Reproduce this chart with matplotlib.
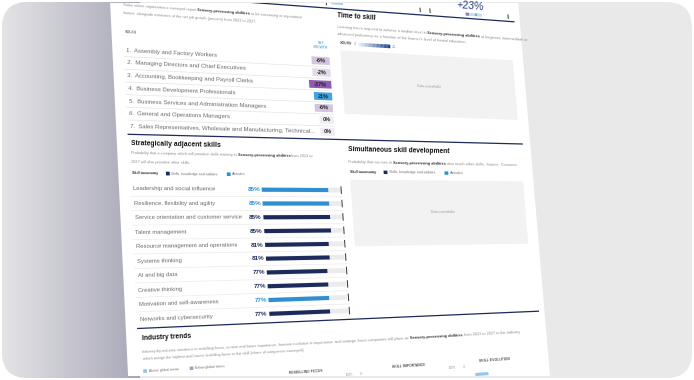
import numpy as np
import matplotlib
matplotlib.use("Agg")
import matplotlib.pyplot as plt
from matplotlib import transforms as mtransforms
from matplotlib.colors import LinearSegmentedColormap, to_rgb
from matplotlib.patches import FancyBboxPatch, Rectangle

# ---- data ----
roles = [
    "Assembly and Factory Workers",
    "Managing Directors and Chief Executives",
    "Accounting, Bookkeeping and Payroll Clerks",
    "Business Development Professionals",
    "Business Services and Administration Managers",
    "General and Operations Managers",
    "Sales Representatives, Wholesale and Manufacturing, Technical...",
]
net_growth = [-6, -2, -37, 21, -6, 0, 0]

skills = [
    "Leadership and social influence",
    "Resilience, flexibility and agility",
    "Service orientation and customer service",
    "Talent management",
    "Resource management and operations",
    "Systems thinking",
    "AI and big data",
    "Creative thinking",
    "Motivation and self-awareness",
    "Networks and cybersecurity",
]
skill_share = [85, 85, 85, 85, 81, 81, 77, 77, 77, 77]
skill_group = ["Attitudes", "Attitudes", "Skills", "Skills", "Skills",
               "Skills", "Skills", "Skills", "Attitudes", "Skills"]

plt.rcParams["font.family"] = ["Liberation Sans", "DejaVu Sans"]

NAVY = "#1c2a5c"
BLUE = "#2f8fd2"
LABEL = "#6c6c6c"
DESC = "#8f8f8f"
HILITE = "#3a3a3a"

# perspective of the tilted page: page coords (u, v) -> screen pixels
HORIZON = 205.0
VP_ROW = np.array([3000.0, HORIZON, 1.0])
VP_COL = np.array([-420.0, -11000.0, 1.0])
EDGE_X0, EDGE_SLOPE = 110.0, 0.048


class PageTilt(mtransforms.Transform):
    input_dims = output_dims = 2

    def transform_non_affine(self, values):
        pts = np.asarray(values, dtype=float).reshape(-1, 2)
        u, v = pts[:, 0], pts[:, 1]
        one = np.ones_like(u)
        rows = np.cross(np.column_stack([EDGE_X0 + EDGE_SLOPE * v, v, one]), VP_ROW)
        cols = np.cross(np.column_stack([u, HORIZON * one, one]), VP_COL)
        p = np.cross(rows, cols)
        return p[:, :2] / p[:, 2:3]


fig = plt.figure(figsize=(6.94, 3.80), dpi=100)
fig.patch.set_facecolor("white")
ax = fig.add_axes([0, 0, 1, 1])
ax.set_autoscale_on(False)
ax.axis("off")

tilt = PageTilt()
page = tilt + ax.transData
renderer = fig.canvas.get_renderer()


def screen(u, v):
    return tilt.transform(np.array([[u, v]]))[0]


def row_angle(x, y):
    return -np.degrees(np.arctan((HORIZON - y) / (VP_ROW[0] - x)))


def text(u, v, s, size=4.3, color=LABEL, weight="normal", ha="left"):
    x, y = screen(u, v)
    return ax.text(x, y, s, fontsize=size, color=color, fontweight=weight, ha=ha,
                   va="center", rotation=row_angle(x, y), rotation_mode="anchor", zorder=6)


def rich(u, v, parts, size=2.8):
    # consecutive runs of plain / bold text along one page row
    x, y = screen(u, v)
    ang = row_angle(x, y)
    ca, sa = np.cos(np.radians(ang)), np.sin(np.radians(ang))
    gap = 0.27 * size * 100 / 72
    for s, bold in parts:
        t = ax.text(x, y, s, fontsize=size, color=HILITE if bold else DESC,
                    fontweight="bold" if bold else "normal", va="center", zorder=6)
        w = t.get_window_extent(renderer).width + gap
        t.set_rotation(ang)
        t.set_rotation_mode("anchor")
        x, y = x + w * ca, y - w * sa


def box(u, v, w, h, color, z=3):
    r = Rectangle((u, v), w, h, facecolor=color, edgecolor="none", transform=page, zorder=z)
    ax.add_patch(r)
    return r


def hline(u0, u1, v, color, lw):
    ax.plot([u0, u1], [v, v], color=color, lw=lw, transform=page, zorder=4,
            solid_capstyle="butt")


def vtick(u, v, half, color="#333333", lw=0.7):
    ax.plot([u, u], [v - half, v + half], color=color, lw=lw, transform=page, zorder=5)


def growth_color(g):
    t = min(1.0, abs(g) / (37 if g < 0 else 25)) ** 0.7
    a = np.array(to_rgb("#efedf1"))
    b = np.array(to_rgb("#8e5bb0" if g < 0 else "#2a9be0"))
    return a + (b - a) * t


# ---- mock-up frame ----
frame = FancyBboxPatch((2, 2), 690, 376, boxstyle="round,pad=0,rounding_size=26",
                       facecolor="#e9e9e9", edgecolor="none", zorder=0)
ax.add_patch(frame)
shade = ax.imshow(np.linspace(0, 1, 256)[None, :],
                  cmap=LinearSegmentedColormap.from_list("shade", ["#e4e4e7", "#a8a7b7"]),
                  extent=(2, 140, 378, 2), aspect="auto", zorder=1, interpolation="bilinear")
shade.set_clip_path(frame)
ax.set_xlim(0, 694)
ax.set_ylim(380, 0)

n_patches = len(ax.patches)
box(119.84, -60, 415.6, 500, "white", z=2)

# ---- strip left over from the block above ----
text(486, -22.5, "+23%", size=7.6, color="#233c84", ha="center")
box(345, -15.5, 12, 3, "#a9d2ef")
for uu in (340, 435, 445, 524):
    vtick(uu, -13.5, 2)
box(481, -14.5, 3.5, 3.5, "#9a7ab8")
box(484.5, -14.5, 13, 3.5, "#bfe0f5")
text(491, -12.8, "6", size=2.4, color="#333", ha="center")
hline(131, 530, -8, NAVY, 0.9)

# ---- roles ----
rich(132.7, 4.1, [("Roles where organizations surveyed report", False),
                  ("Sensory-processing abilities", True),
                  ("to be increasing in importance", False)])
rich(132.7, 12.2, [("fastest, alongside estimates of the net job growth (percent) from 2023 to 2027.", False)])
text(133.5, 31.2, "ROLES", size=2.5, weight="bold", color="#777777")
text(331.5, 30.5, "NET", size=2.4, color=BLUE, ha="center")
text(331.5, 35.3, "GROWTH", size=2.4, color=BLUE, ha="center")

ROLE_V0, ROLE_DV = 49.5, 12.75
for i, (name, g) in enumerate(zip(roles, net_growth)):
    v = ROLE_V0 + i * ROLE_DV
    text(134, v, f"{i + 1}.  {name}", size=4.3)
    lab = f"{g}%"
    w = 6 + 4.1 * len(lab)
    box(339.5 - w, v - 4.2, w, 8.4, growth_color(g))
    text(339.5 - w / 2, v, lab, size=4.0, weight="bold", color="#222222", ha="center")
    if i < len(roles) - 1:
        hline(131, 340, v + ROLE_DV / 2, "#e4e4e4", 0.5)

hline(131, 528, 134, NAVY, 0.9)

# ---- strategically adjacent skills ----
text(134, 142.7, "Strategically adjacent skills", size=4.9, weight="bold", color="#111111")
rich(133.5, 152.8, [("Probability that a company which will prioritize skills training in", False),
                    ("Sensory-processing abilities", True), ("from 2023 to", False)])
rich(133.5, 161.8, [("2027 will also prioritize other skills.", False)])


def taxonomy_legend(u, v):
    text(u, v, "Skill taxonomy", size=2.7, weight="bold", color="#333333")
    box(u + 34, v - 1.9, 3.8, 3.8, NAVY)
    text(u + 39.5, v, "Skills, knowledge and abilities", size=2.5, color="#777777")
    box(u + 95, v - 1.9, 3.8, 3.8, BLUE)
    text(u + 100.5, v, "Attitudes", size=2.5, color="#777777")


taxonomy_legend(133.6, 173)

SK_V0, SK_DV = 188.9, 14.52
bar_tf = mtransforms.Affine2D().scale(0.783, SK_DV).translate(262.7, SK_V0) + page
rows = np.arange(len(skills))
bar_colors = [BLUE if g == "Attitudes" else NAVY for g in skill_group]
ax.barh(rows, np.full(len(rows), 100), height=0.36, color="#ececec", transform=bar_tf, zorder=3)
ax.barh(rows, skill_share, height=0.3, color=bar_colors, transform=bar_tf, zorder=4)
ax.vlines(np.full(len(rows), 101.5), rows - 0.28, rows + 0.28, color="#333333", lw=0.7,
          transform=bar_tf, zorder=5)
for r, (name, p, c) in enumerate(zip(skills, skill_share, bar_colors)):
    v = SK_V0 + r * SK_DV
    text(134, v, name, size=4.2)
    text(261, v, f"{p}%", size=4.5, weight="bold", color=c, ha="right")
    if r < len(skills) - 1:
        hline(131, 343, v + SK_DV / 2, "#ececec", 0.5)

# ---- time to skill ----
text(350, -1, "Time to skill", size=4.8, weight="bold", color="#111111")
rich(349, 12, [("Learning hours required to achieve a median level in", False),
               ("Sensory-processing abilities", True),
               ("at beginner, intermediate or", False)])
rich(349, 20, [("advanced proficiency as a function of the learner's level of formal education.", False)])
text(351, 29.5, "HOURS", size=2.4, weight="bold", color="#555555")
text(365.5, 29.5, "0", size=2.4, color="#888888")
hours_cmap = LinearSegmentedColormap.from_list("hours", ["#e8f2fb", "#1b3f8b"])
for k in range(24):
    box(369.4 + k * 1.35, 27.5, 1.45, 4, hours_cmap(k / 23), z=4)
text(403.5, 30, "24", size=2.4, color="#888888")
box(351, 37, 174, 69, "#f2f2f2")
text(438, 72, "Data unavailable", size=2.3, color="#9a9a9a", ha="center")

# ---- simultaneous skill development ----
text(352, 145.2, "Simultaneous skill development", size=4.8, weight="bold", color="#111111")
rich(351, 158.3, [("Probability that courses in", False), ("Sensory-processing abilities", True),
                  ("also teach other skills. Source: Coursera.", False)])
taxonomy_legend(352, 169)
box(352, 177.5, 173, 72.5, "#f2f2f2")
text(442, 213, "Data unavailable", size=2.3, color="#9a9a9a", ha="center")

# ---- industry trends ----
hline(131, 530, 329, NAVY, 0.9)
text(135, 339, "Industry trends", size=4.9, weight="bold", color="#111111")
rich(135, 352.5, [("Industry-by-industry variations in reskilling focus, current and future importance, "
                   "forecast evolution in importance, and strategic focus companies will place on", False),
                  ("Sensory-processing abilities", True),
                  ("from 2023 to 2027 to the industry", False)])
rich(135, 359.5, [("which assign the highest and lowest reskilling focus to the skill "
                   "(share of companies surveyed).", False)])
box(135, 370.2, 3.6, 3.6, "#8ec8ec")
text(140.5, 372, "Above global mean", size=2.5, color="#777777")
box(181, 370.2, 3.6, 3.6, "#b493d1")
text(186.5, 372, "Below global mean", size=2.5, color="#777777")
for u, head in ((295, "RESKILLING FOCUS"), (397, "SKILL IMPORTANCE"), (482, "SKILL EVOLUTION")):
    text(u, 383, head, size=2.4, weight="bold", color="#555555", ha="center")
for u in (338, 440):
    text(u, 388.5, "100%", size=2.2, color="#999999", ha="center")
    text(u + 12, 388.5, "75", size=2.2, color="#999999", ha="center")
box(462, 396, 13, 3.5, "#8ec8ec")

# keep the page inside the mock-up window
sheet_clip = Rectangle((0, 3), 694, 373, transform=ax.transData)
for art in ax.patches[n_patches:] + ax.lines + ax.texts + ax.collections:
    art.set_clip_path(sheet_clip)

fig.savefig("out.png", dpi=100, facecolor="white")
plt.close(fig)
